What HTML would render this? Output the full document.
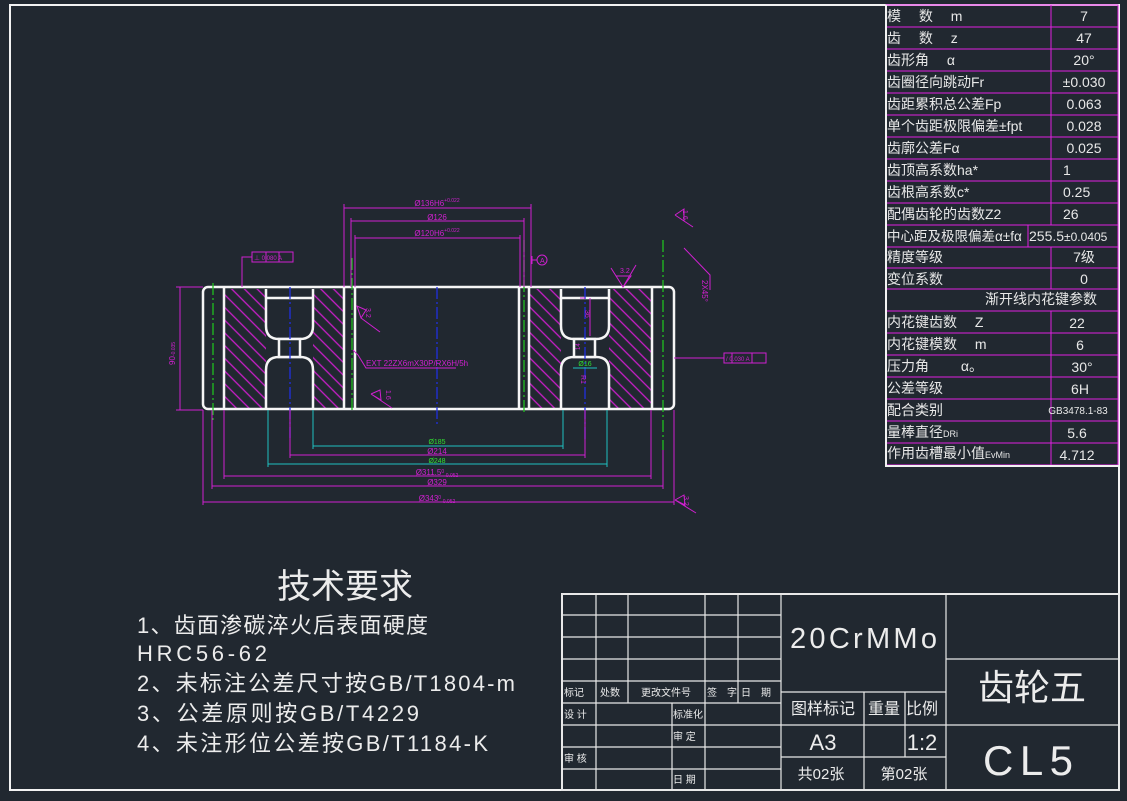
<!DOCTYPE html>
<html><head><meta charset="utf-8"><style>
html,body{margin:0;padding:0;background:#212830;}
svg{display:block;}
text{font-family:"Liberation Sans","Noto Sans CJK SC",sans-serif;}
</style></head><body>
<svg width="1127" height="801" viewBox="0 0 1127 801" xmlns="http://www.w3.org/2000/svg">
<defs>
<pattern id="h" width="9" height="9" patternUnits="userSpaceOnUse" patternTransform="rotate(-45)">
<line x1="4.5" y1="-1" x2="4.5" y2="10" stroke="#c81ec8" stroke-width="1.3"/>
</pattern>
</defs>
<rect width="1127" height="801" fill="#212830"/>
<rect x="10" y="5" width="1109" height="785" fill="none" stroke="#f2f2f2" stroke-width="2"/>

<g stroke="#e020e0" stroke-width="1" fill="none">
<rect x="886" y="5" width="232" height="460"/>
<line x1="1051" y1="5" x2="1051" y2="225"/>
<line x1="1028" y1="225" x2="1028" y2="247"/>
<line x1="1051" y1="247" x2="1051" y2="289"/>
<line x1="1051" y1="311" x2="1051" y2="465"/>
<line x1="886" y1="27" x2="1118" y2="27"/><line x1="886" y1="49" x2="1118" y2="49"/>
<line x1="886" y1="71" x2="1118" y2="71"/><line x1="886" y1="93" x2="1118" y2="93"/>
<line x1="886" y1="115" x2="1118" y2="115"/><line x1="886" y1="137" x2="1118" y2="137"/>
<line x1="886" y1="159" x2="1118" y2="159"/><line x1="886" y1="181" x2="1118" y2="181"/>
<line x1="886" y1="203" x2="1118" y2="203"/><line x1="886" y1="225" x2="1118" y2="225"/>
<line x1="886" y1="247" x2="1118" y2="247"/><line x1="886" y1="268" x2="1118" y2="268"/>
<line x1="886" y1="289" x2="1118" y2="289"/><line x1="886" y1="311" x2="1118" y2="311"/>
<line x1="886" y1="333" x2="1118" y2="333"/><line x1="886" y1="355" x2="1118" y2="355"/>
<line x1="886" y1="377" x2="1118" y2="377"/><line x1="886" y1="399" x2="1118" y2="399"/>
<line x1="886" y1="421" x2="1118" y2="421"/><line x1="886" y1="443" x2="1118" y2="443"/>
</g>
<line x1="886" y1="5" x2="886" y2="466" stroke="#f2f2f2" stroke-width="2"/>
<line x1="885" y1="466" x2="1119" y2="466" stroke="#f2f2f2" stroke-width="2"/>
<g fill="#e8e8e8" font-size="14">
<text x="887" y="21">模　 数　 m</text><text x="1084" y="21" text-anchor="middle">7</text>
<text x="887" y="43">齿　 数　 z</text><text x="1084" y="43" text-anchor="middle">47</text>
<text x="887" y="65">齿形角　 α</text><text x="1084" y="65" text-anchor="middle">20°</text>
<text x="887" y="87">齿圈径向跳动Fr</text><text x="1084" y="87" text-anchor="middle">±0.030</text>
<text x="887" y="109">齿距累积总公差Fp</text><text x="1084" y="109" text-anchor="middle">0.063</text>
<text x="887" y="131">单个齿距极限偏差±fpt</text><text x="1084" y="131" text-anchor="middle">0.028</text>
<text x="887" y="153">齿廓公差Fα</text><text x="1084" y="153" text-anchor="middle">0.025</text>
<text x="887" y="175">齿顶高系数ha*</text><text x="1063" y="175">1</text>
<text x="887" y="197">齿根高系数c*</text><text x="1063" y="197">0.25</text>
<text x="887" y="219">配偶齿轮的齿数Z2</text><text x="1063" y="219">26</text>
<text x="887" y="241" font-size="13.5">中心距及极限偏差α±fα</text><text x="1029" y="241" font-size="14">255.5<tspan font-size="12">±0.0405</tspan></text>
<text x="887" y="262">精度等级</text><text x="1084" y="262" text-anchor="middle">7级</text>
<text x="887" y="284">变位系数</text><text x="1084" y="284" text-anchor="middle">0</text>
<text x="1041" y="304" text-anchor="middle">渐开线内花键参数</text>
<text x="887" y="327">内花键齿数　 Z</text><text x="1077" y="328" text-anchor="middle">22</text>
<text x="887" y="349">内花键模数　 m</text><text x="1080" y="350" text-anchor="middle">6</text>
<text x="887" y="371">压力角　　 α。</text><text x="1082" y="372" text-anchor="middle">30°</text>
<text x="887" y="393">公差等级</text><text x="1080" y="394" text-anchor="middle">6H</text>
<text x="887" y="415">配合类别</text><text x="1078" y="414" text-anchor="middle" font-size="10">GB3478.1-83</text>
<text x="887" y="437">量棒直径<tspan font-size="9">DRi</tspan></text><text x="1077" y="438" text-anchor="middle">5.6</text>
<text x="887" y="458">作用齿槽最小值<tspan font-size="9">EvMin</tspan></text><text x="1077" y="460" text-anchor="middle">4.712</text>
</g>

<g stroke="#e8e8e8" stroke-width="1.2" fill="none">
<rect x="562" y="594" width="557" height="196" stroke-width="2"/>
<line x1="562" y1="615" x2="781" y2="615"/><line x1="562" y1="637" x2="781" y2="637"/>
<line x1="562" y1="659" x2="781" y2="659"/><line x1="562" y1="681" x2="781" y2="681"/>
<line x1="562" y1="703" x2="781" y2="703"/><line x1="562" y1="725" x2="781" y2="725"/>
<line x1="562" y1="747" x2="781" y2="747"/><line x1="562" y1="769" x2="781" y2="769"/>
<line x1="596" y1="594" x2="596" y2="790"/>
<line x1="628" y1="594" x2="628" y2="703"/>
<line x1="705" y1="594" x2="705" y2="790"/>
<line x1="738" y1="594" x2="738" y2="703"/>
<line x1="672" y1="703" x2="672" y2="790"/>
<line x1="781" y1="594" x2="781" y2="790"/>
<line x1="946" y1="594" x2="946" y2="790"/>
<line x1="781" y1="692" x2="946" y2="692"/>
<line x1="781" y1="725" x2="1119" y2="725"/>
<line x1="781" y1="757" x2="946" y2="757"/>
<line x1="864" y1="692" x2="864" y2="790"/>
<line x1="905" y1="692" x2="905" y2="757"/>
<line x1="946" y1="659" x2="1119" y2="659"/>
</g>
<g fill="#ececec">
<g font-size="10">
<text x="564" y="696">标记</text><text x="600" y="696">处数</text><text x="641" y="696">更改文件号</text>
<text x="707" y="696">签　字</text><text x="741" y="696">日　期</text>
<text x="564" y="718">设 计</text><text x="673" y="718">标准化</text>
<text x="673" y="740">审 定</text><text x="564" y="762">审 核</text><text x="673" y="783">日 期</text>
</g>
<text x="790" y="648" font-size="29" textLength="147" lengthAdjust="spacing">20CrMMo</text>
<text x="823" y="714" font-size="16" text-anchor="middle">图样标记</text>
<text x="884" y="714" font-size="16" text-anchor="middle">重量</text>
<text x="922" y="714" font-size="16" text-anchor="middle">比例</text>
<text x="823" y="750" font-size="22" text-anchor="middle">A3</text>
<text x="922" y="750" font-size="22" text-anchor="middle">1:2</text>
<text x="821" y="779" font-size="15" text-anchor="middle">共02张</text>
<text x="904" y="779" font-size="15" text-anchor="middle">第02张</text>
<text x="1032" y="700" font-size="36" text-anchor="middle">齿轮五</text>
<text x="983" y="775" font-size="42" textLength="90" lengthAdjust="spacing">CL5</text>
</g>

<g fill="#ececec">
<text x="277" y="598" font-size="34">技术要求</text>
<g font-size="22">
<text x="137" y="633" textLength="291">1、齿面渗碳淬火后表面硬度</text>
<text x="137" y="661" textLength="130">HRC56-62</text>
<text x="137" y="691" textLength="378">2、未标注公差尺寸按GB/T1804-m</text>
<text x="137" y="721" textLength="282">3、公差原则按GB/T4229</text>
<text x="137" y="751" textLength="351">4、未注形位公差按GB/T1184-K</text>
</g>
</g>

<g fill="url(#h)">
<rect x="224" y="289" width="42" height="119"/>
<rect x="313" y="289" width="31" height="119"/>
<rect x="529" y="289" width="32" height="119"/>
<rect x="609" y="289" width="43" height="119"/>
</g>
<g fill="#212830" stroke="#f5f5f5" stroke-width="2.5">
<path d="M266 289 V326 Q266 339 279 339 H300 Q313 339 313 326 V289"/>
<path d="M266 408 V370 Q266 357 279 357 H300 Q313 357 313 370 V408"/>
<rect x="279" y="339" width="21" height="18"/>
<path d="M561 289 V326 Q561 339 574 339 H596 Q609 339 609 326 V289"/>
<path d="M561 408 V370 Q561 357 574 357 H596 Q609 357 609 370 V408"/>
<rect x="574" y="339" width="21" height="18"/>
</g>
<g fill="none" stroke="#f5f5f5" stroke-width="2.5">
<rect x="203" y="287" width="471" height="122" rx="5"/>
<line x1="224" y1="287" x2="224" y2="409"/>
<line x1="344" y1="287" x2="344" y2="409"/>
<line x1="355" y1="287" x2="355" y2="409"/>
<line x1="519" y1="287" x2="519" y2="409"/>
<line x1="529" y1="287" x2="529" y2="409"/>
<line x1="652" y1="287" x2="652" y2="409"/>
<line x1="266" y1="298" x2="313" y2="298"/>
<line x1="561" y1="298" x2="609" y2="298"/>
</g>
<g stroke="#20c020" stroke-width="1.3" stroke-dasharray="12 3 2 3" fill="none">
<line x1="213" y1="283" x2="213" y2="420"/>
<line x1="352" y1="258" x2="352" y2="412"/>
<line x1="524" y1="240" x2="524" y2="412"/>
<line x1="663" y1="240" x2="663" y2="450"/>
</g>
<g stroke="#2030e0" stroke-width="1.3" stroke-dasharray="12 3 2 3" fill="none">
<line x1="290" y1="287" x2="290" y2="438"/>
<line x1="437" y1="287" x2="437" y2="425"/>
<line x1="585" y1="287" x2="585" y2="440"/>
</g>
<g stroke="#d020d0" stroke-width="1" fill="none">
<line x1="344" y1="208" x2="531" y2="208"/><line x1="344" y1="204" x2="344" y2="287"/><line x1="531" y1="204" x2="531" y2="287"/>
<line x1="351" y1="221" x2="524" y2="221"/><line x1="351" y1="218" x2="351" y2="287"/><line x1="524" y1="218" x2="524" y2="287"/>
<line x1="355" y1="238" x2="520" y2="238"/><line x1="355" y1="235" x2="355" y2="287"/><line x1="520" y1="235" x2="520" y2="287"/>
<line x1="290" y1="455" x2="585" y2="455"/><line x1="290" y1="410" x2="290" y2="458"/><line x1="585" y1="410" x2="585" y2="458"/>
<line x1="224" y1="476" x2="651" y2="476"/><line x1="224" y1="410" x2="224" y2="479"/><line x1="651" y1="410" x2="651" y2="479"/>
<line x1="212" y1="486" x2="663" y2="486"/><line x1="212" y1="410" x2="212" y2="489"/><line x1="663" y1="450" x2="663" y2="489"/>
<line x1="203" y1="502" x2="674" y2="502"/><line x1="203" y1="410" x2="203" y2="505"/><line x1="674" y1="410" x2="674" y2="505"/>
<line x1="180" y1="287" x2="180" y2="410"/><line x1="176" y1="287" x2="203" y2="287"/><line x1="176" y1="410" x2="203" y2="410"/>
<rect x="252" y="252" width="41" height="10"/><line x1="266" y1="252" x2="266" y2="262"/><line x1="279" y1="252" x2="279" y2="262"/>
<polyline points="252,257 242,257 242,287"/>
<circle cx="542" cy="260" r="5"/><line x1="532" y1="260" x2="537" y2="260"/><line x1="532" y1="256" x2="532" y2="264"/>
<rect x="724" y="353" width="42" height="10"/><line x1="732" y1="353" x2="732" y2="363"/><line x1="752" y1="353" x2="752" y2="363"/>
<line x1="674" y1="358" x2="724" y2="358"/>
<polyline points="358,355 366,368 456,368"/>
<line x1="353" y1="350" x2="358" y2="355"/>
<polyline points="675,215 684,209 684,221 675,215 693,227"/>
<polyline points="684,248 710,275 710,290"/>
<polyline points="616,276 631,276 623,287 611,268"/><line x1="623" y1="287" x2="636" y2="265"/>
<polyline points="361,318 357,306 366,310 361,318 380,332"/>
<polyline points="371,394 380,390 381,400 371,394 392,408"/>
<polyline points="675,500 684,495 685,505 675,500 696,513"/>
<line x1="580" y1="298" x2="585" y2="298"/><line x1="590" y1="298" x2="590" y2="336"/>
</g>
<g stroke="#20c0c0" stroke-width="1" fill="none">
<line x1="313" y1="446" x2="563" y2="446"/><line x1="313" y1="410" x2="313" y2="449"/><line x1="563" y1="410" x2="563" y2="449"/>
<line x1="268" y1="464" x2="607" y2="464"/><line x1="268" y1="410" x2="268" y2="467"/><line x1="607" y1="410" x2="607" y2="467"/>
<line x1="573" y1="368" x2="597" y2="368"/>
</g>
<g fill="#d020d0" font-size="8">
<text x="437" y="206" text-anchor="middle">Ø136H6<tspan font-size="5" dy="-4">+0.022</tspan></text>
<text x="437" y="220" text-anchor="middle">Ø126</text>
<text x="437" y="236" text-anchor="middle">Ø120H6<tspan font-size="5" dy="-4">+0.022</tspan></text>
<text x="437" y="454" text-anchor="middle">Ø214</text>
<text x="437" y="475" text-anchor="middle">Ø311.5<tspan font-size="5" dy="-2">0</tspan><tspan font-size="5" dy="4">-0.052</tspan></text>
<text x="437" y="485" text-anchor="middle">Ø329</text>
<text x="437" y="501" text-anchor="middle">Ø343<tspan font-size="5" dy="-2">0</tspan><tspan font-size="5" dy="4">-0.052</tspan></text>
<text x="366" y="366">EXT 22ZX6mX30P/RX6H/5h</text>
<text x="254" y="260" font-size="6">⊥ 0.080  A</text>
<text x="726" y="361" font-size="6">/ 0.030  A</text>
<text x="540" y="263" font-size="7">A</text>
<text transform="translate(175,365) rotate(-90)">90<tspan font-size="5">-0.035</tspan></text>
<text transform="translate(702,280) rotate(90)">2X45°</text>
<text x="620" y="273" font-size="7">3.2</text>
<text transform="translate(683,210) rotate(90)" font-size="7">1.6</text>
<text transform="translate(366,308) rotate(90)" font-size="7">3.2</text>
<text transform="translate(386,390) rotate(90)" font-size="7">1.6</text>
<text transform="translate(684,496) rotate(90)" font-size="7">3.2</text>
<text transform="translate(585,310) rotate(90)" font-size="7">36</text>
<text transform="translate(581,375) rotate(90)" font-size="7">R1</text>
<text transform="translate(580,350) rotate(-90)" font-size="6">14</text>
</g>
<g fill="#30e030" font-size="7">
<text x="437" y="444" text-anchor="middle">Ø185</text>
<text x="437" y="463" text-anchor="middle">Ø248</text>
<text x="585" y="366" text-anchor="middle">Ø16</text>
</g>
</svg>
</body></html>
